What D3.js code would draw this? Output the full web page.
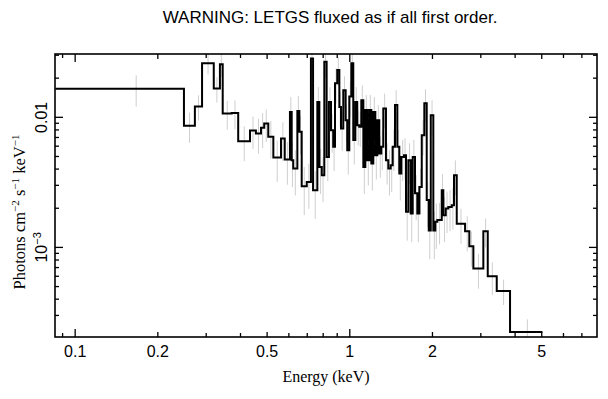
<!DOCTYPE html>
<html>
<head>
<meta charset="utf-8">
<script src="https://cdn.jsdelivr.net/npm/d3@7"></script>
<style>
  body { margin: 0; background: #fff; }
  svg { display: block; }
</style>
</head>
<body>
<div id="chart"></div>
<script>
'use strict';

// lower bin edges (keV); the last bin ends at binEnd
var binLo = [0.085, 0.250, 0.274, 0.291, 0.321, 0.338, 0.346, 0.373, 0.394, 0.435,
    0.457, 0.477, 0.490, 0.507, 0.529, 0.564, 0.582, 0.608, 0.617, 0.625,
    0.647, 0.658, 0.671, 0.700, 0.725, 0.738, 0.765, 0.778, 0.794, 0.811,
    0.827, 0.843, 0.858, 0.874, 0.887, 0.904, 0.920, 0.933, 0.951, 0.970,
    0.983, 1.000, 1.017, 1.034, 1.052, 1.069, 1.087, 1.106, 1.125, 1.144,
    1.163, 1.183, 1.203, 1.223, 1.244, 1.265, 1.286, 1.308, 1.330, 1.360,
    1.387, 1.415, 1.439, 1.467, 1.496, 1.521, 1.547, 1.582, 1.609, 1.641,
    1.674, 1.702, 1.735, 1.769, 1.799, 1.836, 1.876, 1.914, 1.947, 1.980,
    2.023, 2.057, 2.092, 2.171, 2.200, 2.245, 2.294, 2.361, 2.406, 2.462,
    2.640, 2.736, 2.830, 3.077, 3.193, 3.443, 3.849];
var binEnd = 5.05;

// flux per bin (photons cm^-2 s^-1 keV^-1)
var flux = [0.0164, 0.00853, 0.0120, 0.0258, 0.0165, 0.0254, 0.0106, 0.0107, 0.0065, 0.00786,
    0.00745, 0.00823, 0.0089, 0.00702, 0.00487, 0.00682, 0.0047, 0.0109, 0.00464, 0.00401,
    0.0111, 0.00767, 0.00293, 0.00316, 0.0281, 0.00273, 0.0130, 0.00412, 0.00356, 0.0265,
    0.00492, 0.0130, 0.0079, 0.00588, 0.0181, 0.0229, 0.0119, 0.00814, 0.0160, 0.00943,
    0.00554, 0.0143, 0.0258, 0.00662, 0.0130, 0.00863, 0.00838, 0.0134, 0.00412, 0.0113,
    0.00464, 0.0113, 0.00438, 0.0109, 0.00507, 0.00943, 0.00523, 0.00588, 0.0116, 0.00464,
    0.00401, 0.00425, 0.00588, 0.0123, 0.00588, 0.00367, 0.00492, 0.00507, 0.00186, 0.00464,
    0.00181, 0.00492, 0.00258, 0.00181, 0.00289, 0.00723, 0.0127, 0.00229, 0.00134, 0.0103,
    0.00134, 0.00156, 0.00161, 0.00273, 0.00175, 0.00197, 0.00203, 0.00209, 0.00356, 0.00151,
    0.00132, 0.00101, 0.000682, 0.00132, 0.000595, 0.000459, 0.000222];

// relative 1-sigma error per bin
var fluxErr = [0.27, 0.26, 0.22, 0.18, 0.22, 0.20, 0.25, 0.25, 0.30, 0.28,
    0.30, 0.30, 0.28, 0.32, 0.35, 0.33, 0.36, 0.30, 0.38, 0.38,
    0.30, 0.33, 0.40, 0.38, 0.22, 0.40, 0.30, 0.38, 0.38, 0.24,
    0.35, 0.30, 0.33, 0.35, 0.30, 0.25, 0.30, 0.33, 0.28, 0.32,
    0.35, 0.30, 0.24, 0.35, 0.30, 0.30, 0.30, 0.30, 0.38, 0.30,
    0.36, 0.30, 0.38, 0.30, 0.35, 0.30, 0.35, 0.34, 0.30, 0.35,
    0.38, 0.38, 0.35, 0.30, 0.35, 0.38, 0.35, 0.35, 0.40, 0.35,
    0.40, 0.35, 0.38, 0.40, 0.38, 0.30, 0.28, 0.38, 0.40, 0.30,
    0.40, 0.38, 0.35, 0.33, 0.38, 0.35, 0.35, 0.35, 0.30, 0.30,
    0.30, 0.30, 0.30, 0.25, 0.28, 0.22, 0.25];

// axis ticks
var xDecadeTicks = [0.1, 1];
var xLabelTicks = [0.2, 0.5, 2, 5];
var xMinorTicks = [0.09, 0.3, 0.4, 0.6, 0.7, 0.8, 0.9, 3, 4, 6, 7];
var xTickLabels = {0.1: '0.1', 0.2: '0.2', 0.5: '0.5', 1: '1', 2: '2', 5: '5'};
var yMajorTicks = [0.01, 0.001];
var yMinorTicks = [0.0003, 0.0004, 0.0005, 0.0006, 0.0007, 0.0008, 0.0009,
    0.002, 0.003, 0.004, 0.005, 0.006, 0.007, 0.008, 0.009, 0.02, 0.03];

var title = 'WARNING: LETGS fluxed as if all first order.';
var xTitle = 'Energy (keV)';

var W = 608, H = 399;
var frame = {left: 55, right: 597, top: 54, bottom: 337};
var SANS = '"Liberation Sans", Arial, Helvetica, sans-serif';
var SERIF = '"Liberation Serif", "Times New Roman", Times, serif';

var x = d3.scaleLog().domain([0.0848, 7.98]).range([frame.left, frame.right]);
var y = d3.scaleLog().domain([2.03e-4, 0.0304]).range([frame.bottom, frame.top]);

var svg = d3.select('#chart').append('svg')
    .attr('width', W)
    .attr('height', H);

svg.append('defs').append('clipPath').attr('id', 'plot-clip')
    .append('rect')
    .attr('x', frame.left).attr('y', frame.top)
    .attr('width', frame.right - frame.left)
    .attr('height', frame.bottom - frame.top);

var bins = binLo.map(function(lo, i) {
    var hi = i < binLo.length - 1 ? binLo[i + 1] : binEnd;
    return {lo: lo, hi: hi, f: flux[i], e: fluxErr[i]};
});

var plot = svg.append('g').attr('clip-path', 'url(#plot-clip)');

// error bars
plot.selectAll('line.err')
    .data(bins)
    .enter().append('line')
    .attr('class', 'err')
    .attr('x1', function(d) { return x((d.lo + d.hi) / 2); })
    .attr('x2', function(d) { return x((d.lo + d.hi) / 2); })
    .attr('y1', function(d) { return y(d.f * (1 + d.e)); })
    .attr('y2', function(d) { return y(d.f * (1 - d.e)); })
    .attr('stroke', '#cfcfcf')
    .attr('stroke-width', 1);

// step histogram
var pts = bins.map(function(d) { return [d.lo, d.f]; });
pts.push([binEnd, flux[flux.length - 1]]);

var step = d3.line()
    .x(function(d) { return x(d[0]); })
    .y(function(d) { return y(d[1]); })
    .curve(d3.curveStepAfter);

plot.append('path')
    .attr('d', step(pts))
    .attr('fill', 'none')
    .attr('stroke', '#000')
    .attr('stroke-width', 2)
    .attr('stroke-linejoin', 'miter');

// axes: ticks point inward on all four sides
function tickAxis(maker, scale, values, size, pos) {
    var g = svg.append('g')
        .attr('transform', pos)
        .call(maker(scale).tickValues(values).tickSize(size).tickFormat(''));
    g.select('.domain').remove();
    g.selectAll('.tick line').attr('stroke', '#000').attr('stroke-width', 1.3);
    return g;
}

var bottomPos = 'translate(0,' + frame.bottom + ')',
    topPos = 'translate(0,' + frame.top + ')',
    leftPos = 'translate(' + frame.left + ',0)',
    rightPos = 'translate(' + frame.right + ',0)';

tickAxis(d3.axisBottom, x, xDecadeTicks, -8, bottomPos);
tickAxis(d3.axisBottom, x, xLabelTicks, -5, bottomPos);
tickAxis(d3.axisBottom, x, xMinorTicks, -4, bottomPos);
tickAxis(d3.axisTop, x, xDecadeTicks, -8, topPos);
tickAxis(d3.axisTop, x, xLabelTicks, -5, topPos);
tickAxis(d3.axisTop, x, xMinorTicks, -4, topPos);
tickAxis(d3.axisLeft, y, yMajorTicks, -8, leftPos);
tickAxis(d3.axisLeft, y, yMinorTicks, -4, leftPos);
tickAxis(d3.axisRight, y, yMajorTicks, -8, rightPos);
tickAxis(d3.axisRight, y, yMinorTicks, -4, rightPos);

// x tick labels
var xLab = svg.append('g')
    .attr('transform', bottomPos)
    .call(d3.axisBottom(x)
        .tickValues(xDecadeTicks.concat(xLabelTicks))
        .tickSize(0)
        .tickPadding(0)
        .tickFormat(function(d) { return xTickLabels[d]; }));
xLab.select('.domain').remove();
xLab.selectAll('.tick text')
    .attr('dy', null)
    .attr('y', 20)
    .attr('fill', '#000')
    .style('font-family', SANS)
    .style('font-size', '16px');

// y tick labels, rotated
var yLab = svg.append('g')
    .attr('transform', leftPos)
    .call(d3.axisLeft(y).tickValues(yMajorTicks).tickSize(0).tickFormat(''));
yLab.select('.domain').remove();
yLab.selectAll('.tick text').remove();
yLab.selectAll('.tick').each(function(d) {
    var t = d3.select(this).append('text')
        .attr('transform', 'translate(-8,0) rotate(-90)')
        .attr('text-anchor', 'middle')
        .attr('fill', '#000')
        .style('font-family', SANS)
        .style('font-size', '16px');
    if (d === 0.01) {
        t.text('0.01');
    } else {
        t.append('tspan').text('10');
        t.append('tspan').attr('dy', -6).style('font-size', '11px').text('\u22123');
    }
});

// frame
svg.append('rect')
    .attr('x', frame.left).attr('y', frame.top)
    .attr('width', frame.right - frame.left)
    .attr('height', frame.bottom - frame.top)
    .attr('fill', 'none')
    .attr('stroke', '#000')
    .attr('stroke-width', 1.6);

// titles
svg.append('text')
    .attr('x', 330).attr('y', 23)
    .attr('text-anchor', 'middle')
    .style('font-family', SANS)
    .style('font-size', '17px')
    .text(title);

svg.append('text')
    .attr('x', (frame.left + frame.right) / 2).attr('y', 382)
    .attr('text-anchor', 'middle')
    .style('font-family', SERIF)
    .style('font-size', '16px')
    .text(xTitle);

var yt = svg.append('text')
    .attr('transform', 'translate(25,212) rotate(-90)')
    .attr('text-anchor', 'middle')
    .style('font-family', SERIF)
    .style('font-size', '16.5px');
yt.append('tspan').text('Photons cm');
yt.append('tspan').attr('dy', -6).style('font-size', '11px').text('\u22122');
yt.append('tspan').attr('dy', 6).text(' s');
yt.append('tspan').attr('dy', -6).style('font-size', '11px').text('\u22121');
yt.append('tspan').attr('dy', 6).text(' keV');
yt.append('tspan').attr('dy', -6).style('font-size', '11px').text('\u22121');
</script>
</body>
</html>
